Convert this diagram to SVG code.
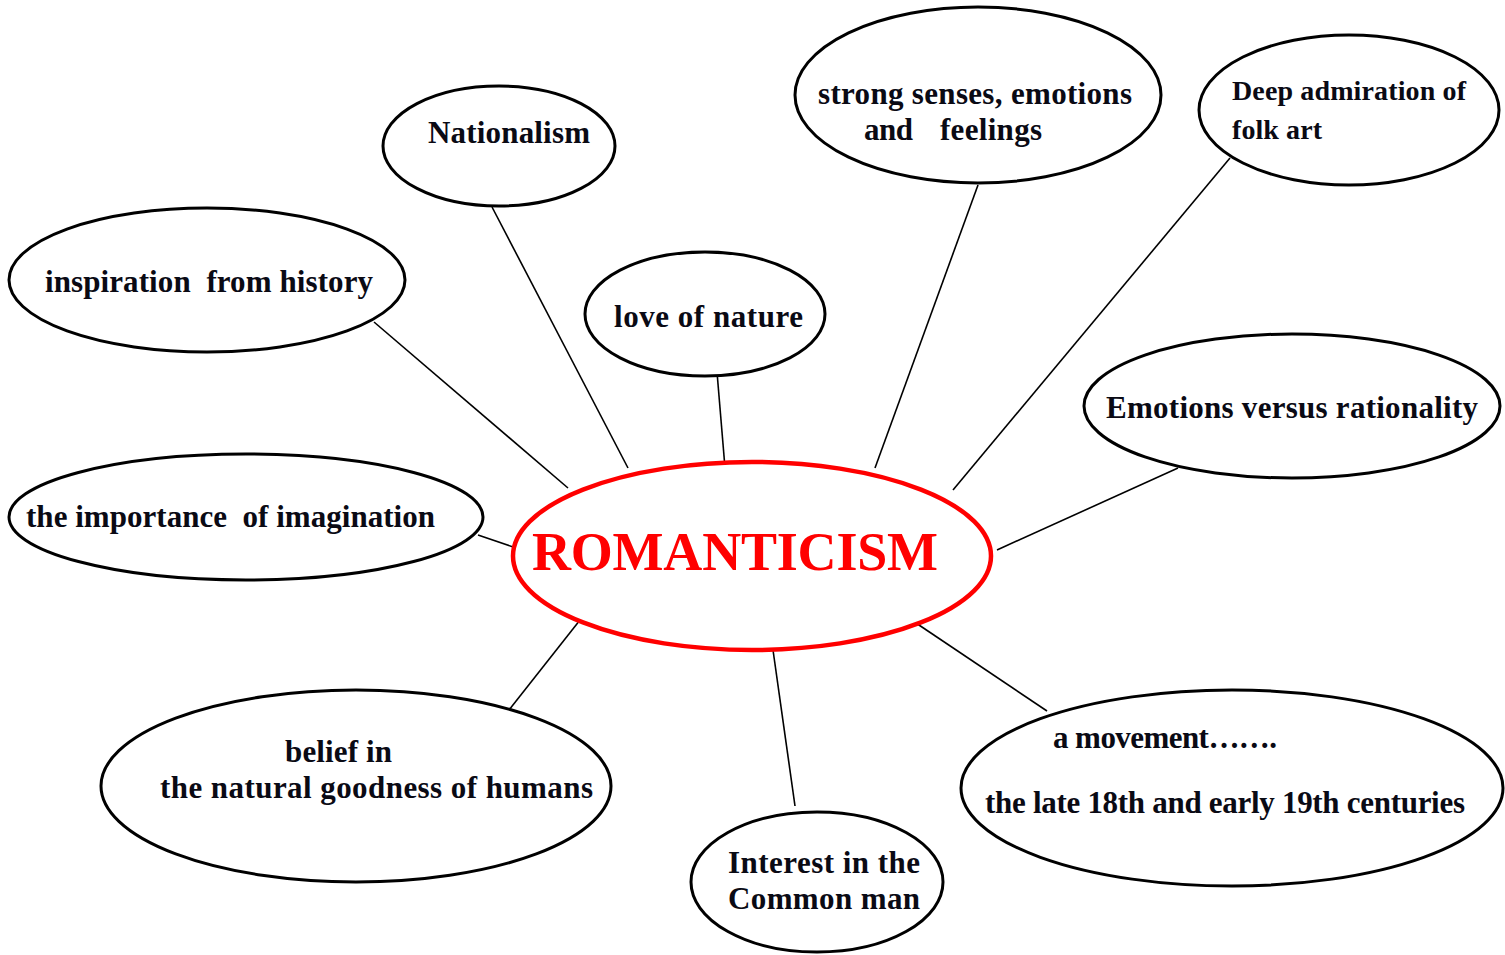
<svg xmlns="http://www.w3.org/2000/svg" width="1505" height="955" viewBox="0 0 1505 955">
<style>
.n{fill:#fff;stroke:#000;stroke-width:3}
.c{fill:#fff;stroke:#ff0000;stroke-width:4.5}
.t{font-family:"Liberation Serif","Times New Roman",serif;font-weight:bold;font-size:31px;fill:#0a0a14}
.s{font-size:28px}
.r{font-family:"Liberation Serif","Times New Roman",serif;font-weight:bold;font-size:54px;fill:#ff0000}
.l{stroke:#000;stroke-width:1.6;fill:none}
</style>
<rect width="1505" height="955" fill="#fff"/>
<g id="connectors">
<line class="l" x1="492" y1="207" x2="628" y2="468"/>
<line class="l" x1="374" y1="322" x2="568" y2="488"/>
<line class="l" x1="717" y1="372" x2="725" y2="468"/>
<line class="l" x1="978" y1="185" x2="875" y2="468"/>
<line class="l" x1="1230" y1="158" x2="953" y2="490"/>
<line class="l" x1="1178" y1="468" x2="997" y2="550"/>
<line class="l" x1="478" y1="535" x2="522" y2="550"/>
<line class="l" x1="509" y1="710" x2="580" y2="620"/>
<line class="l" x1="773" y1="650" x2="795" y2="806"/>
<line class="l" x1="913" y1="621" x2="1047" y2="711"/>
</g>
<g id="nationalism">
<ellipse class="n" cx="499" cy="146" rx="116" ry="60"/>
<text class="t" x="428" y="143" textLength="162" lengthAdjust="spacing">Nationalism</text>
</g>
<g id="strong-senses">
<ellipse class="n" cx="978" cy="95" rx="183" ry="88"/>
<text class="t" x="818" y="104" textLength="314" lengthAdjust="spacing">strong senses, emotions</text>
<text class="t" x="864" y="140" textLength="49" lengthAdjust="spacing">and</text>
<text class="t" x="940" y="140" textLength="102" lengthAdjust="spacing">feelings</text>
</g>
<g id="folk-art">
<ellipse class="n" cx="1349" cy="110" rx="150" ry="75"/>
<text class="t s" x="1232" y="100" textLength="234" lengthAdjust="spacing">Deep admiration of</text>
<text class="t s" x="1232" y="139" textLength="90" lengthAdjust="spacing">folk art</text>
</g>
<g id="history">
<ellipse class="n" cx="207" cy="280" rx="198" ry="72"/>
<text class="t" x="45" y="292" xml:space="preserve" textLength="328" lengthAdjust="spacing">inspiration  from history</text>
</g>
<g id="nature">
<ellipse class="n" cx="705" cy="314" rx="120" ry="62"/>
<text class="t" x="614" y="327" textLength="189" lengthAdjust="spacing">love of nature</text>
</g>
<g id="emotions">
<ellipse class="n" cx="1292" cy="406" rx="208" ry="72"/>
<text class="t" x="1106" y="418" textLength="372" lengthAdjust="spacing">Emotions versus rationality</text>
</g>
<g id="imagination">
<ellipse class="n" cx="246" cy="517" rx="237" ry="63"/>
<text class="t" x="26" y="527" xml:space="preserve" textLength="409" lengthAdjust="spacing">the importance  of imagination</text>
</g>
<g id="romanticism">
<ellipse class="c" cx="752" cy="556" rx="239" ry="94"/>
<text class="r" x="532" y="570" textLength="406" lengthAdjust="spacing">ROMANTICISM</text>
</g>
<g id="belief">
<ellipse class="n" cx="356" cy="786" rx="255" ry="96"/>
<text class="t" x="285" y="762" textLength="107" lengthAdjust="spacing">belief in</text>
<text class="t" x="160" y="798" textLength="433" lengthAdjust="spacing">the natural goodness of humans</text>
</g>
<g id="common-man">
<ellipse class="n" cx="817" cy="882" rx="126" ry="70"/>
<text class="t" x="728" y="873" textLength="192" lengthAdjust="spacing">Interest in the</text>
<text class="t" x="728" y="909" textLength="192" lengthAdjust="spacing">Common man</text>
</g>
<g id="movement">
<ellipse class="n" cx="1232" cy="788" rx="271" ry="98"/>
<text class="t" x="1053" y="748" textLength="224" lengthAdjust="spacing">a movement…….</text>
<text class="t" x="985" y="813" textLength="480" lengthAdjust="spacing">the late 18th and early 19th centuries</text>
</g>
</svg>
